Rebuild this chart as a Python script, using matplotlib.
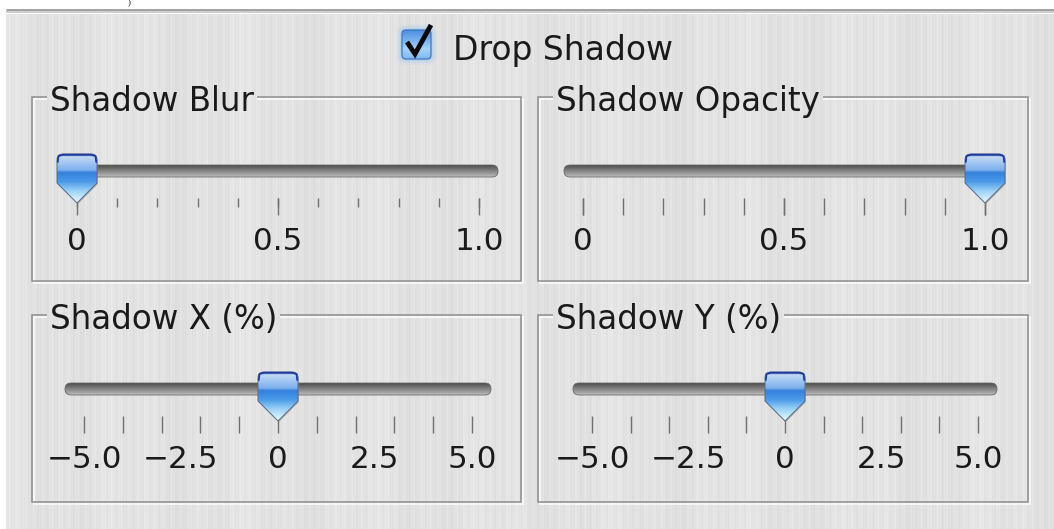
import numpy as np
import matplotlib
matplotlib.use('Agg')
import matplotlib.pyplot as plt
from matplotlib.patches import PathPatch, FancyBboxPatch
from matplotlib.path import Path
from matplotlib.colors import to_rgb

W, H = 1054, 529
DPI = 72

# ---------------- data ----------------
checkbox_label = 'Drop Shadow'
checkbox_checked = True
slider_titles = ['Shadow Blur', 'Shadow Opacity', 'Shadow X (%)', 'Shadow Y (%)']
slider_values = [0.0, 1.0, 0.0, 0.0]
slider_min = [0.0, 0.0, -5.0, -5.0]
slider_max = [1.0, 1.0, 5.0, 5.0]
slider_tick_count = [11, 11, 11, 11]
unit_label_values = [0.0, 0.5, 1.0]
unit_label_text = ['0', '0.5', '1.0']
pct_label_values = [-5.0, -2.5, 0.0, 2.5, 5.0]
pct_label_text = ['\u22125.0', '\u22122.5', '0', '2.5', '5.0']
slider_label_values = [unit_label_values, unit_label_values, pct_label_values, pct_label_values]
slider_label_text = [unit_label_text, unit_label_text, pct_label_text, pct_label_text]

# ---------------- layout (pixels, y measured downward) ----------------
boxes = [(32, 97, 521, 281), (538, 97, 1028, 281), (32, 315, 521, 502), (538, 315, 1028, 502)]
tick_span = [(77, 479), (583, 985), (84, 472), (592, 978)]
track_y = [171, 171, 389, 389]
minor_len = [9, 17, 17, 17]
major_visible = [True, True, False, False]
FONT = 'DejaVu Sans'
TXT = '#1a1a1a'


def vgrad(stops, n=96):
    pos = np.array([p for p, _ in stops])
    cols = np.array([to_rgb(c) for _, c in stops])
    t = np.linspace(0, 1, n)
    out = np.stack([np.interp(t, pos, cols[:, k]) for k in range(3)], axis=-1)
    return out[:, None, :]


fig = plt.figure(figsize=(W / DPI, H / DPI), dpi=DPI, facecolor='white')

# background / frame layer in pixel coordinates
bg = fig.add_axes([0, 0, 1, 1])
bg.set_zorder(0)
bg.set_xlim(0, W)
bg.set_ylim(H, 0)
bg.axis('off')

xs = np.arange(W - 6, dtype=float)
streak = (0.010 * np.sin(xs * 0.73) + 0.008 * np.sin(xs * 1.91 + 1.3)
          + 0.007 * np.sin(xs * 0.137 + 0.4) + 0.005 * np.sin(xs * 3.07)
          + 0.006 * np.sin(xs * 0.051 + 2.0))
row = 0.89 + streak
img = np.tile(row, (H - 14, 1))
bg.imshow(np.dstack([img] * 3), extent=(6, W, H, 14), origin='upper',
          aspect='auto', interpolation='bilinear', zorder=0)

# top separator
bg.plot([6, W], [9.5, 9.5], color='#a2a2a2', lw=3, solid_capstyle='butt', zorder=1)
bg.plot([6, W], [12.3, 12.3], color='#cdcdcd', lw=2, solid_capstyle='butt', zorder=1)
bg.text(129, 7, ')', fontsize=9, family='Liberation Serif', ha='center',
        va='bottom', color='#111111', zorder=1)

renderer = fig.canvas.get_renderer()

# group boxes and titles
for (x0, y0, x1, y1), title in zip(boxes, slider_titles):
    t = bg.text(x0 + 18, y0 + 14, title, fontsize=32.5, family=FONT,
                ha='left', va='baseline', color=TXT, zorder=3)
    ext = t.get_window_extent(renderer)
    g0, g1 = ext.x0 - 3, ext.x1 + 3
    for off, col in ((2, '#fdfdfd'), (0, '#8c8c8c')):
        bg.plot([g1, x1 + off, x1 + off, x0 + off, x0 + off, g0],
                [y0 + off, y0 + off, y1 + off, y1 + off, y0 + off, y0 + off],
                color=col, lw=1.5, solid_joinstyle='miter', solid_capstyle='butt', zorder=2)

# slider axes (ticks + labels through the library's axis)
slider_axes = []
for i in range(4):
    l, r = tick_span[i]
    tick_top = track_y[i] + 27
    ax = fig.add_axes([l / W, (H - tick_top) / H, (r - l) / W, 1.0 / H])
    ax.set_zorder(1)
    ax.set_xlim(slider_min[i], slider_max[i])
    ax.set_ylim(0, 1)
    ax.patch.set_alpha(0)
    for s in ax.spines.values():
        s.set_visible(False)
    ax.set_yticks([])
    ax.set_xticks(slider_label_values[i])
    ax.set_xticklabels(slider_label_text[i])
    ax.set_xticks(np.linspace(slider_min[i], slider_max[i], slider_tick_count[i]), minor=True)
    ax.xaxis.remove_overlapping_locs = False
    ax.tick_params(axis='x', which='major', direction='out', length=17, width=1.4,
                   color='#707070' if major_visible[i] else (0, 0, 0, 0),
                   pad=12, labelsize=31, labelcolor=TXT)
    ax.tick_params(axis='x', which='minor', direction='out', length=minor_len[i],
                   width=1.4, color='#707070')
    for lab in ax.get_xticklabels():
        lab.set_family(FONT)
    slider_axes.append(ax)

# foreground layer (tracks, thumbs, checkbox)
fg = fig.add_axes([0, 0, 1, 1])
fg.set_zorder(2)
fg.set_xlim(0, W)
fg.set_ylim(H, 0)
fg.axis('off')
fg.patch.set_alpha(0)

track_grad = vgrad([(0, '#4c4c4c'), (0.2, '#646464'), (0.55, '#8a8a8a'),
                    (0.85, '#ababab'), (1, '#c4c4c4')])
thumb_grad = vgrad([(0.0, '#23409c'), (0.05, '#c3daf6'), (0.32, '#7cafec'),
                    (0.37, '#3580dc'), (0.55, '#4a9ae8'), (0.75, '#9fd4f7'),
                    (1.0, '#f2ffff')], n=128)

for i, ax in enumerate(slider_axes):
    ty = track_y[i]
    xa = ax.transData.transform((slider_min[i], 0.5))[0]
    xb = ax.transData.transform((slider_max[i], 0.5))[0]
    cx = ax.transData.transform((slider_values[i], 0.5))[0]
    # track
    x0t, x1t = xa - 19, xb + 19
    tp = FancyBboxPatch((x0t, ty - 6), x1t - x0t, 12,
                        boxstyle='round,pad=0,rounding_size=6',
                        facecolor='none', edgecolor='#666666', lw=0.8, zorder=3)
    fg.add_patch(tp)
    im = fg.imshow(track_grad, extent=(x0t, x1t, ty + 6, ty - 6), origin='upper',
                   aspect='auto', interpolation='bilinear', zorder=2)
    im.set_clip_path(tp)
    # thumb
    hw, top, rr, sb, pt = 20, ty - 17, 6, ty + 12, ty + 32
    verts = [(cx - hw, sb), (cx - hw, top + rr), (cx - hw, top), (cx - hw + rr, top),
             (cx + hw - rr, top), (cx + hw, top), (cx + hw, top + rr),
             (cx + hw, sb), (cx, pt), (cx - hw, sb)]
    codes = [Path.MOVETO, Path.LINETO, Path.CURVE3, Path.CURVE3, Path.LINETO,
             Path.CURVE3, Path.CURVE3, Path.LINETO, Path.LINETO, Path.CLOSEPOLY]
    shadow = PathPatch(Path([(x + 0.8, y + 1.2) for x, y in verts], codes),
                       facecolor='#8a8a8a', edgecolor='none', alpha=0.6, zorder=4)
    fg.add_patch(shadow)
    th = PathPatch(Path(verts, codes), facecolor='none', edgecolor='#5a6c8c',
                   lw=1.0, zorder=6)
    fg.add_patch(th)
    im2 = fg.imshow(thumb_grad, extent=(cx - hw - 1, cx + hw + 1, pt + 1, top),
                    origin='upper', aspect='auto', interpolation='bilinear', zorder=5)
    im2.set_clip_path(th)
    fg.plot([cx - hw + 0.8, cx - hw + 1.5, cx - hw + rr, cx + hw - rr, cx + hw - 1.5, cx + hw - 0.8],
            [top + rr + 2, top + 2, top + 0.7, top + 0.7, top + 2, top + rr + 2],
            color='#1d3a9e', lw=1.8, zorder=7, solid_capstyle='round')

# checkbox
cbx, cby, cbs = 402, 30, 29
for k, a in ((6, 0.10), (4, 0.18), (2, 0.30)):
    fg.add_patch(FancyBboxPatch((cbx - k, cby - k), cbs + 2 * k, cbs + 2 * k,
                                boxstyle='round,pad=0,rounding_size=%g' % (4 + k),
                                facecolor='#8fc3f2', edgecolor='none', alpha=a, zorder=3))
cb = FancyBboxPatch((cbx, cby), cbs, cbs, boxstyle='round,pad=0,rounding_size=4',
                    facecolor='none', edgecolor='#3f72c0', lw=1.2, zorder=5)
fg.add_patch(cb)
cb_grad = vgrad([(0, '#4b8fe0'), (0.3, '#74acec'), (0.65, '#a6d2f8'), (1, '#7fbaf0')])
im3 = fg.imshow(cb_grad, extent=(cbx, cbx + cbs, cby + cbs, cby), origin='upper',
                aspect='auto', interpolation='bilinear', zorder=4)
im3.set_clip_path(cb)
if checkbox_checked:
    fg.plot([cbx + 5, cbx + 13, cbx + 29], [cby + 12, cby + 24, cby - 5],
            color='#0a0a0a', lw=4.8, solid_joinstyle='miter', solid_capstyle='butt', zorder=6)
fg.text(453, 60, checkbox_label, fontsize=33, family=FONT, ha='left', va='baseline',
        color=TXT, zorder=6)

fg.set_xlim(0, W)
fg.set_ylim(H, 0)
bg.set_xlim(0, W)
bg.set_ylim(H, 0)

fig.savefig('out.png', dpi=DPI, facecolor='white')
